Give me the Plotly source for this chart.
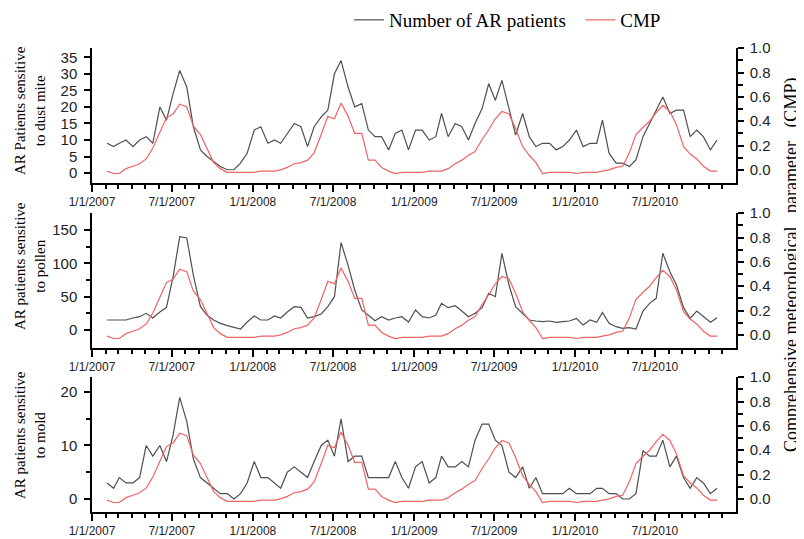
import plotly.graph_objects as go

# ---------------- data (semi-monthly, Feb 2007 - Nov 2010) ----------------
months = [(2007 + (m - 1) // 12, (m - 1) % 12 + 1) for m in range(2, 48)]
dates = [f"{y}-{mo:02d}-{d:02d}" for (y, mo) in months for d in (4, 19)]

dust_mite = [9, 8, 9, 10, 8, 10, 11, 9, 20, 16,
             24, 31, 26, 14, 7, 5, 3.5, 2, 1, 1,
             3, 6, 13, 14, 9, 10, 9, 12, 15, 14,
             8, 14, 17, 19, 30, 34, 26, 20, 21, 13,
             11, 11, 7, 12, 13, 7, 13, 13, 10,
             11, 18, 11, 15, 14, 10, 15, 19.5, 27, 22,
             28, 19, 11.5, 18, 11, 8, 9, 9, 7, 8,
             10, 13, 8, 9, 9, 16, 6, 3, 3, 2,
             4, 11, 15, 19, 23, 18, 19, 19, 11, 13,
             11, 7, 10]

pollen = [15, 15, 16, 15, 18, 20, 25, 18, 27, 34,
          80, 140, 138, 82, 35, 22, 15, 10, 6.5, 3.5,
          1.5, 12, 21, 15, 15, 21, 18, 27, 35, 34,
          18, 20, 24, 35, 50, 131, 97, 60, 30, 22,
          14, 20, 15, 18, 20, 12, 30, 20, 18,
          22.5, 40, 33.5, 36.5, 28.5, 20, 25, 33.5, 55, 50,
          115, 67.5, 35, 25, 15, 13.5, 12.5, 13.5, 11.5, 12.5,
          13.5, 17.5, 7.5, 15, 11.5, 26.5, 10, 5, 2.5, 3.5,
          1.5, 28.5, 40, 47.5, 115, 87.5, 67.5, 33.5, 17.5, 28.5,
          20, 11.5, 18.5]

mold = [3, 2, 4, 3, 3, 4, 10, 8, 10, 7,
        12, 19, 14.5, 7.5, 4, 3, 2, 1, 1, 0,
        1, 3, 7, 4, 4, 3, 2, 5, 6, 5,
        4, 7, 10, 11, 8, 15, 7, 8, 8, 4,
        4, 4, 4, 7, 4, 2, 6, 7, 3,
        4, 8, 6, 6, 7, 6, 11, 14, 14, 11,
        10, 5, 4, 6, 2, 4, 1, 1, 1, 1,
        2, 1, 1, 1, 2, 2, 1, 1, 0, 0,
        1, 9, 8, 8, 11, 6, 8, 4, 2, 4,
        3, 1, 2]

cmp_values = [-0.01, -0.03, -0.03, 0.01, 0.03, 0.05, 0.09, 0.18, 0.31, 0.43,
              0.46, 0.54, 0.52, 0.36, 0.29, 0.17, 0.06, 0.01, -0.02, -0.02,
              -0.02, -0.02, -0.02, -0.01, -0.01, -0.01, 0.0, 0.02, 0.05, 0.06,
              0.08, 0.14, 0.29, 0.44, 0.42, 0.55, 0.44, 0.30, 0.30, 0.08,
              0.08, 0.02, -0.01, -0.03, -0.02, -0.02, -0.02, -0.02, -0.01, -0.01,
              -0.01, 0.01, 0.05, 0.08, 0.12, 0.15, 0.25, 0.33, 0.42, 0.48,
              0.46, 0.34, 0.19, 0.12, 0.06, -0.03, -0.02, -0.02, -0.02, -0.02,
              -0.03, -0.02, -0.02, -0.02, -0.01, 0.0, 0.02, 0.03, 0.14, 0.29,
              0.35, 0.40, 0.47, 0.53, 0.48, 0.37, 0.19, 0.13, 0.09, 0.03,
              -0.01, -0.01]

x_tick_vals = ["2007-01-01", "2007-07-01", "2008-01-01", "2008-07-01",
               "2009-01-01", "2009-07-01", "2010-01-01", "2010-07-01"]
x_tick_text = ["1/1/2007", "7/1/2007", "1/1/2008", "7/1/2008",
               "1/1/2009", "7/1/2009", "1/1/2010", "7/1/2010"]
x_minor_vals = [f"{2007 + k // 12}-{k % 12 + 1:02d}-01" for k in range(1, 48) if k % 6 != 0]

cmp_tick_vals = [0.0, 0.2, 0.4, 0.6, 0.8, 1.0]
cmp_tick_text = ["0.0", "0.2", "0.4", "0.6", "0.8", "1.0"]
cmp_minor_vals = [0.1, 0.3, 0.5, 0.7, 0.9]

left_titles = ["AR Patients sensitive<br>to dust mite",
               "AR patients sensitive<br>to pollen",
               "AR patients sensitive<br>to mold"]
right_title = "Comprehensive meteorological   parameter   (CMP)"
legend_names = ["Number of AR patients\u00a0\u00a0", "CMP"]

# ---------------- styling ----------------
GRAY = "#4f4f4f"
RED = "#f06464"
SANS = "Liberation Sans, Arial, sans-serif"
SERIF = "Liberation Serif, Times New Roman, serif"

# The page body has an 8 px margin; figure coords = screen coords - 8.
OFF = 8
W, H = 804 - OFF, 539 - OFF
PL, PR, PT, PB = 92 - OFF, 736 - OFF, 48 - OFF, 512 - OFF   # plot area in figure px
H_PLOT = float(PB - PT)

def ydom(top, bottom):   # screen px -> paper fraction
    return [(512 - bottom) / H_PLOT, (512 - top) / H_PLOT]

domains = [ydom(48, 183), ydom(213, 348), ydom(377, 512)]
left_ranges = [[-3.0, 37.8], [-27.0, 175.5], [-2.43, 22.8]]
left_dticks = [5, 50, 10]
left_minor = [[], [25, 75, 125], [5, 15]]
series = [dust_mite, pollen, mold]

fig = go.Figure()

axis_common = dict(showline=True, linecolor="black", linewidth=1.5,
                   ticks="outside", tickcolor="black", tickwidth=1.5,
                   showgrid=False, zeroline=False, automargin=False)

for p in range(3):
    xa = "x" if p == 0 else f"x{p + 1}"
    yl = "y" if p == 0 else f"y{2 * p + 1}"
    yr = f"y{2 * p + 2}"
    fig.add_trace(go.Scatter(x=dates, y=series[p], mode="lines", xaxis=xa, yaxis=yl,
                             line=dict(color=GRAY, width=1.2),
                             name=legend_names[0], showlegend=(p == 0),
                             legendgroup="ar"))
    fig.add_trace(go.Scatter(x=dates, y=cmp_values, mode="lines", xaxis=xa, yaxis=yr,
                             line=dict(color=RED, width=1.2),
                             name=legend_names[1], showlegend=(p == 0), legendgroup="cmp"))

    xkey = "xaxis" if p == 0 else f"xaxis{p + 1}"
    ylkey = "yaxis" if p == 0 else f"yaxis{2 * p + 1}"
    yrkey = f"yaxis{2 * p + 2}"

    fig.layout[xkey] = dict(axis_common, domain=[0, 1], anchor=yl, type="date",
                            range=["2007-01-01", "2011-01-01"],
                            tickmode="array", tickvals=x_tick_vals, ticktext=x_tick_text,
                            ticklen=7, ticklabelstandoff=0,
                            tickfont=dict(family=SANS, size=12, color="#222"),
                            minor=dict(tickmode="array", tickvals=x_minor_vals,
                                       ticks="outside", ticklen=4, tickwidth=1.5,
                                       tickcolor="black"))
    minor_l = dict(tickmode="array", tickvals=left_minor[p], ticks="outside",
                   ticklen=4, tickwidth=1.5, tickcolor="black") if left_minor[p] else None
    yl_dict = dict(axis_common, domain=domains[p], anchor=xa, range=left_ranges[p],
                   tickmode="linear", tick0=0, dtick=left_dticks[p], ticklen=6,
                   ticklabelstandoff=4,
                   tickfont=dict(family=SANS, size=15, color="#222"))
    if minor_l:
        yl_dict["minor"] = minor_l
    fig.layout[ylkey] = yl_dict
    fig.layout[yrkey] = dict(axis_common, overlaying=yl, side="right", anchor=xa,
                             range=[-0.108, 1.002],
                             tickmode="array", tickvals=cmp_tick_vals, ticktext=cmp_tick_text,
                             ticklen=6, ticklabelstandoff=3,
                             tickfont=dict(family=SANS, size=15, color="#222"),
                             minor=dict(tickmode="array", tickvals=cmp_minor_vals,
                                        ticks="outside", ticklen=5, tickwidth=1.5,
                                        tickcolor="black"))

# left titles (two-line, rotated)
title_centers = [111, 266, 435]
for p in range(3):
    fig.add_annotation(text=left_titles[p], xref="paper", yref="paper",
                       x=0, xshift=-62, y=(512 - title_centers[p]) / H_PLOT,
                       showarrow=False, textangle=-90,
                       font=dict(family=SERIF, size=15, color="black"),
                       xanchor="center", yanchor="middle")

fig.add_annotation(text=right_title, xref="paper", yref="paper",
                   x=1, xshift=55, y=(512 - 265) / H_PLOT,
                   showarrow=False, textangle=-90,
                   font=dict(family=SERIF, size=18, color="black"),
                   xanchor="center", yanchor="middle")

fig.update_layout(
    width=W, height=H,
    margin=dict(l=PL, r=W - PR, t=PT, b=H - PB, autoexpand=False),
    paper_bgcolor="white", plot_bgcolor="white",
    showlegend=True,
    legend=dict(orientation="h", xref="container", yref="container",
                x=(349 - OFF) / W, xanchor="left",
                y=1 - (20 - OFF) / H, yanchor="middle",
                font=dict(family=SERIF, size=19, color="black"),
                bgcolor="rgba(0,0,0,0)", itemwidth=30, tracegroupgap=0),
)

fig.write_html("out.html")
